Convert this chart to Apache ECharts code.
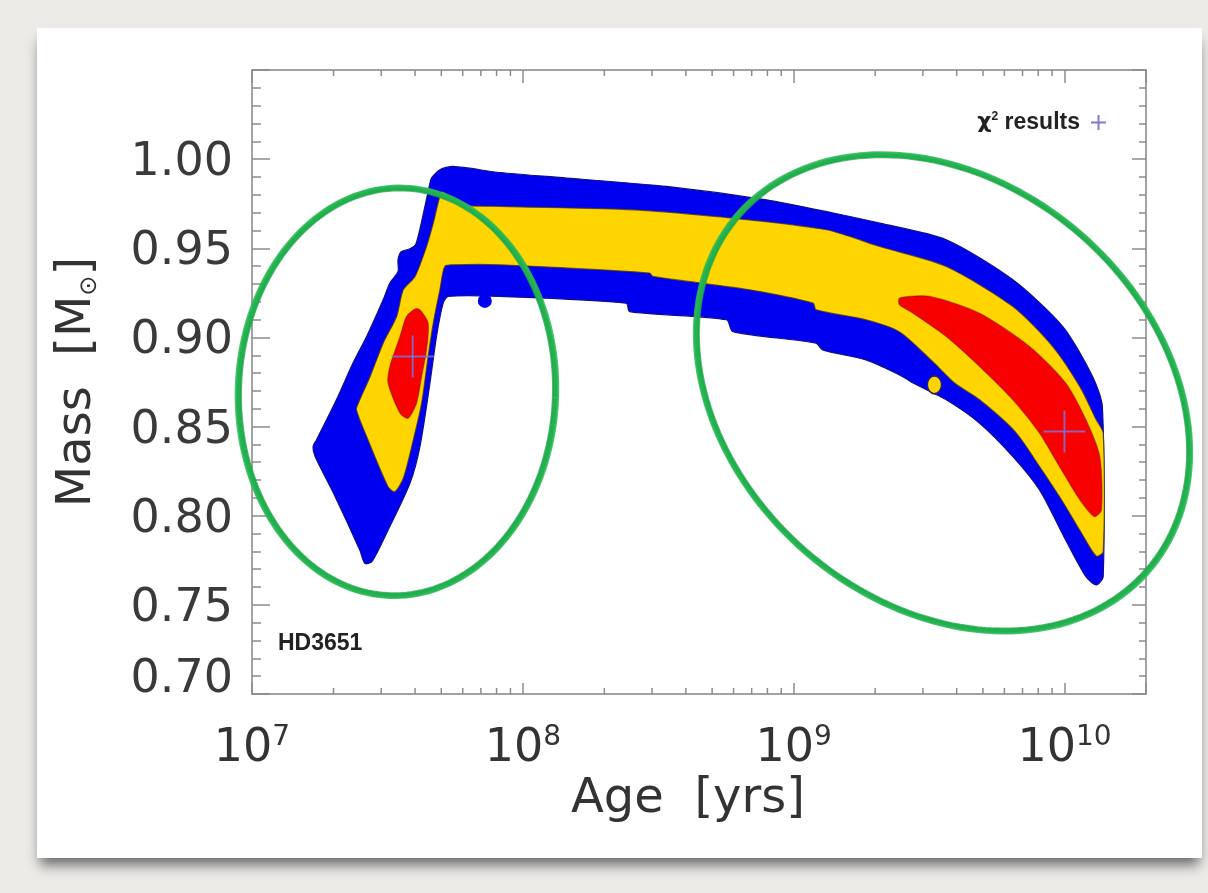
<!DOCTYPE html>
<html>
<head>
<meta charset="utf-8">
<script src="https://cdn.jsdelivr.net/npm/echarts@6/dist/echarts.min.js"></script>
<style>
  html, body { margin: 0; padding: 0; width: 1208px; height: 893px; overflow: hidden; background: #ecebe8; }
  #card { position: absolute; left: 37px; top: 28px; width: 1165px; height: 830px; background: #ffffff;
          box-shadow: 0 10px 12px -3px rgba(0,0,0,0.55); }
  #chart { position: absolute; left: 0; top: 0; width: 1208px; height: 893px; }
</style>
</head>
<body>
<div id="card"></div>
<div id="chart"></div>
<script>
// Axis ranges and ticks
const ageMin = 1e7, ageMax = 2e10;
const massMin = 0.70, massMax = 1.05, massStep = 0.05;
const ageMajorTicks = [1e7, 1e8, 1e9, 1e10];
const ageMinorTicks = [2e7, 3e7, 4e7, 5e7, 6e7, 7e7, 8e7, 9e7,
                       2e8, 3e8, 4e8, 5e8, 6e8, 7e8, 8e8, 9e8,
                       2e9, 3e9, 4e9, 5e9, 6e9, 7e9, 8e9, 9e9];

// Outer (blue) solution region: outline as [age in yrs, mass in Msun]
const bandOuter = [
  [4.60e7, 0.9894], [4.94e7, 0.9941], [5.53e7, 0.9959], [8.23e7, 0.9925], [1.45e8, 0.9894],
  [3.39e8, 0.9847], [7.93e8, 0.9772], [1.40e9, 0.9698], [2.08e9, 0.9641], [3.66e9, 0.9548],
  [6.45e9, 0.9323], [9.86e9, 0.9061], [1.27e10, 0.8781], [1.38e10, 0.8612], [1.39e10, 0.7658],
  [1.31e10, 0.7612], [1.20e10, 0.7658], [1.01e10, 0.7864], [8.09e9, 0.8145], [6.45e9, 0.8332],
  [4.86e9, 0.8519], [3.66e9, 0.8650], [2.76e9, 0.8744], [2.46e9, 0.8790], [1.85e9, 0.8874],
  [1.28e9, 0.8930], [1.21e9, 0.8968], [5.96e8, 0.9033], [5.65e8, 0.9099], [2.48e8, 0.9145],
  [2.41e8, 0.9192], [8.23e7, 0.9230], [5.30e7, 0.9230], [5.08e7, 0.9192], [4.80e7, 0.9005],
  [4.54e7, 0.8744], [4.17e7, 0.8388], [3.83e7, 0.8182], [3.14e7, 0.7902], [2.77e7, 0.7742],
  [2.61e7, 0.7733], [2.50e7, 0.7808], [2.00e7, 0.8126], [1.71e7, 0.8332], [1.68e7, 0.8388],
  [1.73e7, 0.8425], [2.05e7, 0.8650], [2.36e7, 0.8856], [2.65e7, 0.9005], [3.05e7, 0.9211],
  [3.23e7, 0.9305], [3.46e7, 0.9368], [3.46e7, 0.9435], [3.55e7, 0.9480], [3.83e7, 0.9497],
  [4.03e7, 0.9525], [4.35e7, 0.9735], [4.54e7, 0.9866]
];

// Middle (yellow) solution region
const bandInner = [
  [5.07e7, 0.9817], [5.38e7, 0.9783], [5.85e7, 0.9744], [8.23e7, 0.9735], [2.55e8, 0.9716],
  [5.96e8, 0.9669], [1.32e9, 0.9604], [2.08e9, 0.9510], [3.66e9, 0.9398], [6.45e9, 0.9173],
  [9.05e9, 0.8949], [1.14e10, 0.8724], [1.31e10, 0.8538], [1.39e10, 0.8463], [1.39e10, 0.7797],
  [1.31e10, 0.7774], [1.155e10, 0.7903], [9.75e9, 0.8089], [8.09e9, 0.8276], [6.57e9, 0.8472],
  [4.86e9, 0.8650], [3.93e9, 0.8744], [3.27e9, 0.8863], [2.46e9, 0.9031], [1.85e9, 0.9099],
  [1.21e9, 0.9155], [1.18e9, 0.9192], [6.88e8, 0.9267], [3.02e8, 0.9342], [2.94e8, 0.9361],
  [8.23e7, 0.9407], [5.53e7, 0.9407], [5.15e7, 0.9398], [4.94e7, 0.9267], [4.67e7, 0.9080],
  [4.47e7, 0.8893], [4.23e7, 0.8631], [3.94e7, 0.8425], [3.62e7, 0.8210], [3.37e7, 0.8135],
  [3.18e7, 0.8163], [2.65e7, 0.8444], [2.43e7, 0.8594], [2.47e7, 0.8631], [2.73e7, 0.8781],
  [3.05e7, 0.8968], [3.42e7, 0.9117], [3.62e7, 0.9267], [4.00e7, 0.9342], [4.41e7, 0.9510],
  [4.67e7, 0.9641], [4.94e7, 0.9791]
];

// Best-fit (red) regions: young and old solutions
const coreYoung = [
  [4.00e7, 0.9159], [4.17e7, 0.9155], [4.47e7, 0.9080], [4.41e7, 0.8930], [4.23e7, 0.8781],
  [4.05e7, 0.8631], [3.77e7, 0.8547], [3.52e7, 0.8575], [3.18e7, 0.8744], [3.23e7, 0.8837],
  [3.52e7, 0.9005], [3.72e7, 0.9117]
];
const coreOld = [
  [2.46e9, 0.9221], [3.18e9, 0.9230], [4.86e9, 0.9136], [7.43e9, 0.8949], [1.01e10, 0.8744],
  [1.20e10, 0.8538], [1.35e10, 0.8332], [1.37e10, 0.8033], [1.29e10, 0.7995], [1.14e10, 0.8089],
  [9.58e9, 0.8276], [8.09e9, 0.8463], [6.45e9, 0.8650], [4.86e9, 0.8837], [3.66e9, 0.9005],
  [2.76e9, 0.9136], [2.46e9, 0.9183]
];

// Isolated solution points
const outerIsland = [[7.24e7, 0.9205]];
const innerIsland = [[3.31e9, 0.8734]];

// Chi-square best fits
const chi2Best = [[3.92e7, 0.8893], [1.00e10, 0.8472]];

// Hand-drawn highlight rings: centre in data units, radii in pixels
const highlightRings = [
  { center: [3.43e7, 0.8695], rx: 158.5, ry: 204, rot: 2 },
  { center: [3.56e9, 0.8689], rx: 271, ry: 210, rot: 41 }
];

const BLUE = '#0000f0', YELLOW = '#ffd500', RED = '#f80000';
const CROSS = 'rgba(128,112,215,0.85)';
const GREEN = '#23b14f';
const AXIS_GREY = '#a3a3a3', TICK_GREY = '#8c8c8c';
const FONT = 'DejaVu Sans';

function regionSeries(name, pts, fill, stroke, z) {
  return {
    type: 'custom', name: name, data: pts, z: z, silent: true, clip: false,
    renderItem: function (params, api) {
      if (params.dataIndex !== 0) return null;
      return {
        type: 'polygon',
        shape: { points: pts.map(function (p) { return api.coord(p); }), smooth: 0.25 },
        style: { fill: fill, stroke: stroke, lineWidth: 1.2 }
      };
    }
  };
}

function ringPoints(cx, cy, rx, ry, rotDeg, n) {
  const r = rotDeg * Math.PI / 180, pts = [];
  for (let i = 0; i <= n; i++) {
    const t = i / n * 2 * Math.PI;
    const x = rx * Math.cos(t), y = ry * Math.sin(t);
    pts.push([cx + x * Math.cos(r) - y * Math.sin(r), cy + x * Math.sin(r) + y * Math.cos(r)]);
  }
  return pts;
}

const chart = echarts.init(document.getElementById('chart'), null, { renderer: 'canvas' });

const plusIcon = 'path://M6.5,0h2v15h-2z M0,6.5h15v2h-15z';

const option = {
  backgroundColor: 'transparent',
  animation: false,
  title: {
    text: 'HD3651', left: 278, top: 632, padding: 0,
    textStyle: { fontFamily: 'Liberation Sans', fontSize: 23, fontWeight: 'bold', color: '#222' }
  },
  legend: {
    data: [{ name: 'χ² results', icon: plusIcon }],
    right: 97, top: 106, align: 'right', selectedMode: false,
    itemWidth: 15, itemHeight: 15,
    formatter: function () { return '{chi|χ}{sup|2}{txt| results}'; },
    textStyle: {
      padding: [0, 6, 0, 0],
      rich: {
        chi: { fontFamily: FONT, fontSize: 22, fontWeight: 'bold', color: '#222' },
        sup: { fontFamily: 'Liberation Sans', fontSize: 12, fontWeight: 'bold', color: '#222', verticalAlign: 'top', lineHeight: 14 },
        txt: { fontFamily: 'Liberation Sans', fontSize: 23, fontWeight: 'bold', color: '#222' }
      }
    }
  },
  grid: { left: 252, right: 62, top: 70, bottom: 199, outerBoundsMode: 'none', containLabel: false },
  xAxis: [
    {
      type: 'log', logBase: 10, min: ageMin, max: ageMax, position: 'bottom',
      name: 'Age  [yrs]', nameLocation: 'middle', nameGap: 82, nameMoveOverlap: false,
      nameTextStyle: { fontFamily: FONT, fontSize: 48, color: '#333', padding: [0, 22, 0, 0] },
      axisLine: { lineStyle: { color: AXIS_GREY, width: 2 } },
      axisTick: { inside: true, length: 11, lineStyle: { color: TICK_GREY, width: 1.5 } },
      splitLine: { show: false },
      axisLabel: {
        margin: 30, color: '#333',
        formatter: function (v) {
          const e = Math.round(Math.log10(v));
          const hit = ageMajorTicks.some(function (t) { return Math.abs(t - v) / t < 1e-6; });
          return hit ? '{b|10}{s|' + e + '}' : '';
        },
        rich: {
          b: { fontFamily: FONT, fontSize: 46, color: '#333', lineHeight: 50 },
          s: { fontFamily: FONT, fontSize: 28, color: '#333', lineHeight: 28, verticalAlign: 'top' }
        }
      }
    },
    {
      type: 'log', logBase: 10, min: ageMin, max: ageMax, position: 'top',
      axisLine: { lineStyle: { color: AXIS_GREY, width: 2 } },
      axisTick: { inside: true, length: 13, lineStyle: { color: TICK_GREY, width: 1.5 } },
      axisLabel: { show: false }, splitLine: { show: false }
    }
  ],
  yAxis: [
    {
      type: 'value', min: massMin, max: massMax, interval: massStep, position: 'left',
      name: 'Mass  [M{sun|⊙}]', nameLocation: 'middle', nameRotate: 90, nameGap: 150, nameMoveOverlap: false,
      nameTextStyle: {
        fontFamily: FONT, fontSize: 48, color: '#333',
        rich: { sun: { fontFamily: FONT, fontSize: 24, color: '#333', verticalAlign: 'bottom', lineHeight: 24 } }
      },
      axisLine: { lineStyle: { color: AXIS_GREY, width: 2 } },
      axisTick: { inside: true, length: 18, lineStyle: { color: TICK_GREY, width: 1.5 } },
      minorTick: { show: true, splitNumber: 5, length: 9, lineStyle: { color: TICK_GREY, width: 1.5 } },
      splitLine: { show: false }, minorSplitLine: { show: false },
      axisLabel: {
        margin: 19, color: '#3a3a3a', fontFamily: FONT, fontSize: 46, padding: [8, 0, 0, 0],
        formatter: function (v) {
          if (v > 1.001) return '';
          const s = v.toFixed(2);
          return Math.abs(v - massMin) < 1e-9 ? '{low|' + s + '}' : s;
        },
        rich: { low: { fontFamily: FONT, fontSize: 46, color: '#3a3a3a', padding: [0, 0, 36, 0] } }
      }
    },
    {
      type: 'value', min: massMin, max: massMax, interval: massStep, position: 'right',
      axisLine: { lineStyle: { color: AXIS_GREY, width: 2 } },
      axisTick: { inside: true, length: 14, lineStyle: { color: TICK_GREY, width: 1.5 } },
      minorTick: { show: true, splitNumber: 5, length: 7, lineStyle: { color: TICK_GREY, width: 1.5 } },
      splitLine: { show: false }, minorSplitLine: { show: false },
      axisLabel: { show: false }
    }
  ],
  series: [
    // minor ticks of the logarithmic age axis, bottom and top
    {
      type: 'custom', name: 'ageMinor', silent: true, clip: false, z: 1,
      data: ageMinorTicks.map(function (a) { return [a, massMin]; }),
      renderItem: function (params, api) {
        const a = api.value(0);
        const b = api.coord([a, massMin]);
        const t = api.coord([a, massMax]);
        const st = { stroke: TICK_GREY, lineWidth: 1.5 };
        return {
          type: 'group', children: [
            { type: 'line', shape: { x1: b[0], y1: b[1], x2: b[0], y2: b[1] - 6 }, style: st },
            { type: 'line', shape: { x1: t[0], y1: t[1], x2: t[0], y2: t[1] + 6 }, style: st }
          ]
        };
      }
    },
    regionSeries('outer', bandOuter, BLUE, '#10108a', 3),
    {
      type: 'scatter', name: 'outerIsland', data: outerIsland, symbol: 'circle', symbolSize: 14,
      itemStyle: { color: BLUE, opacity: 1 }, silent: true, z: 3
    },
    regionSeries('inner', bandInner, YELLOW, 'rgba(70,50,40,0.75)', 4),
    {
      type: 'scatter', name: 'innerIsland', data: innerIsland, symbol: 'circle', symbolSize: [14, 18],
      itemStyle: { color: YELLOW, borderColor: '#22226e', borderWidth: 1.5, opacity: 1 }, silent: true, z: 4
    },
    regionSeries('coreYoung', coreYoung, RED, 'rgba(120,20,20,0.5)', 5),
    regionSeries('coreOld', coreOld, RED, 'rgba(120,20,20,0.5)', 5),
    {
      type: 'custom', name: 'χ² results', data: chi2Best, z: 7, silent: true,
      itemStyle: { color: '#7d7ad8' },
      renderItem: function (params, api) {
        const c = api.coord([api.value(0), api.value(1)]);
        const h = 21;
        const st = { stroke: CROSS, lineWidth: 2 };
        return {
          type: 'group', children: [
            { type: 'line', shape: { x1: c[0] - h, y1: c[1], x2: c[0] + h, y2: c[1] }, style: st },
            { type: 'line', shape: { x1: c[0], y1: c[1] - h, x2: c[0], y2: c[1] + h }, style: st }
          ]
        };
      }
    },
    // hand-drawn green highlight rings
    {
      type: 'custom', name: 'rings', silent: true, clip: false, z: 8,
      data: highlightRings.map(function (r) { return r.center; }),
      renderItem: function (params, api) {
        const r = highlightRings[params.dataIndex];
        const c = api.coord(r.center);
        return {
          type: 'group', children: [
            { type: 'polyline', shape: { points: ringPoints(c[0], c[1], r.rx, r.ry, r.rot, 180) },
              style: { stroke: GREEN, lineWidth: 5, fill: null } },
            { type: 'polyline', shape: { points: ringPoints(c[0], c[1], r.rx + 2.5, r.ry + 2, r.rot, 180) },
              style: { stroke: '#2bb857', lineWidth: 2.5, fill: null, opacity: 0.85 } },
            { type: 'polyline', shape: { points: ringPoints(c[0], c[1], r.rx - 2.5, r.ry - 2.5, r.rot, 180) },
              style: { stroke: '#1ea84a', lineWidth: 2, fill: null, opacity: 0.8 } }
          ]
        };
      }
    }
  ]
};

chart.setOption(option);
</script>
</body>
</html>
